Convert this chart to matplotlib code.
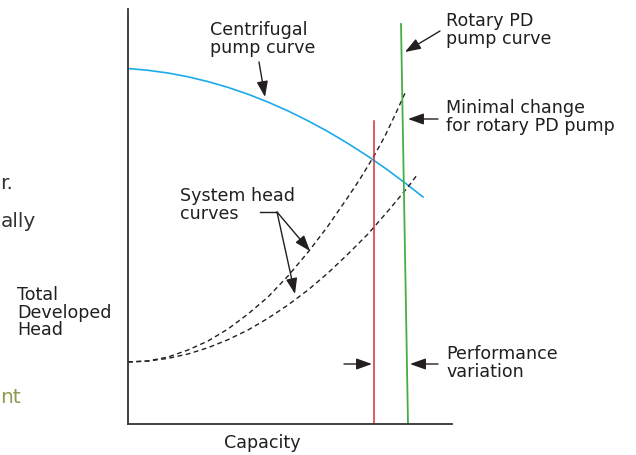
import matplotlib
matplotlib.use("Agg")
import matplotlib.pyplot as plt

# Кривые (ось X — подача, ось Y — напор, в условных единицах)
cf_q = [0, 20, 40, 60, 80, 100, 120, 140, 160, 180, 200, 220, 240, 260, 280, 295]
cf_h = [355.5, 353.7, 351, 347.2, 342.4, 336.6, 329.8, 321.9, 313.1, 303.2, 292.4,
        280.5, 267.7, 253.8, 238.8, 227]

sys1_q = [0, 20, 40, 60, 80, 100, 120, 140, 160, 181, 200, 220, 232, 246, 257, 267, 278]
sys1_h = [62, 63, 67, 74, 83, 95, 110, 127, 148, 173, 198, 227, 245, 268, 288, 309, 333]

sys2_q = [0, 20, 40, 60, 80, 100, 120, 140, 160, 180, 200, 220, 240, 260, 280, 289]
sys2_h = [62, 63, 65.6, 70, 76.3, 84.3, 94, 105.7, 119, 134, 151, 170, 190, 213, 237, 249]

pd_q = [273, 280]
pd_h = [400, 0]

cf_op_q = [246, 246]
cf_op_h = [303, 0]

plt.rcParams["font.family"] = ["DejaVu Sans"]
TXT = "#231f20"

fig = plt.figure(figsize=(6.36, 4.56), dpi=100)
ax = fig.add_axes([128 / 636, 31 / 456, 324 / 636, 415 / 456])
ax.set_xlim(0, 324)
ax.set_ylim(0, 415)

ax.plot(cf_q, cf_h, color="#1aabe8", lw=1.2)
ax.plot(sys1_q, sys1_h, color="#231f20", lw=1.0, ls=(0, (3.5, 2.5)))
ax.plot(sys2_q, sys2_h, color="#231f20", lw=1.0, ls=(0, (3.5, 2.5)))
ax.plot(cf_op_q, cf_op_h, color="#d2303a", lw=1.1)
ax.plot(pd_q, pd_h, color="#45ad45", lw=1.3)

for s in ["top", "right"]:
    ax.spines[s].set_visible(False)
for s in ["left", "bottom"]:
    ax.spines[s].set_color("#333333")
    ax.spines[s].set_linewidth(1.3)
ax.set_xticks([])
ax.set_yticks([])


def P(x, y):
    # пиксели картинки -> пиксели фигуры
    return (x, 456 - y)


arr = dict(arrowstyle="-|>,head_length=0.95,head_width=0.34", color="#231f20", lw=1.0,
           shrinkA=0, shrinkB=0)


def label(x, y, s, **kw):
    fig.text(x / 636, 1 - y / 456, s, ha="left", va="top", fontsize=12.6,
             color=TXT, linespacing=0.97, **kw)


label(210, 21, "Centrifugal\npump curve")
label(446, 12, "Rotary PD\npump curve")
label(446, 99, "Minimal change\nfor rotary PD pump")
label(180, 187, "System head\ncurves")
label(446, 345, "Performance\nvariation")
label(17, 286, "Total\nDeveloped\nHead")
fig.text(262 / 636, 1 - 434 / 456, "Capacity", ha="center", va="top", fontsize=12.6, color=TXT)

# куски соседнего текста слева
fig.text(0.5 / 636, 1 - 189 / 456, "r.", ha="left", va="baseline", fontsize=14.5, color="#333333")
fig.text(0.5 / 636, 1 - 227 / 456, "ally", ha="left", va="baseline", fontsize=14.5, color="#333333")
fig.text(0.5 / 636, 1 - 403 / 456, "nt", ha="left", va="baseline", fontsize=14.5, color="#8e9b52")


# стрелки
def arrow(x0, y0, x1, y1):
    ax.annotate("", xy=P(x1, y1), xytext=P(x0, y0), xycoords="figure pixels",
                textcoords="figure pixels", arrowprops=arr, annotation_clip=False)


arrow(259, 63, 265, 98)
arrow(440, 32, 405, 53)
arrow(438, 120, 408, 120)
arrow(277, 213, 310, 252)
arrow(277, 213, 295, 295)
ax.plot([260 - 128, 277 - 128], [425 - 213, 425 - 213], color="#231f20", lw=1.0, clip_on=False)
arrow(344, 365, 372, 365)
arrow(438, 365, 410, 365)

fig.savefig("out.png", dpi=100)
